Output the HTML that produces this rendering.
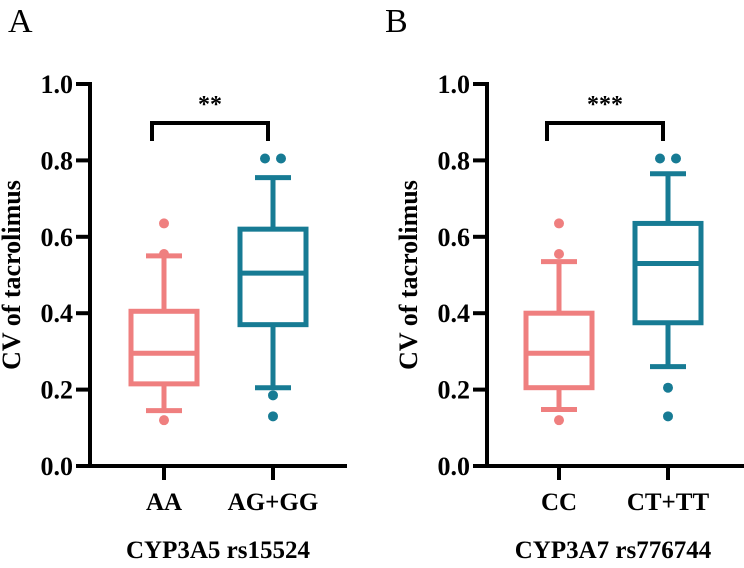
<!DOCTYPE html>
<html><head><meta charset="utf-8"><style>
body{margin:0;background:#fff}
svg text{font-family:"Liberation Serif",serif;font-weight:bold;fill:#000}
</style></head><body>
<svg id="c" width="744" height="563"></svg>
<script>
const panels=["A","B"];
const titles=["CYP3A5 rs15524","CYP3A7 rs776744"];
const groups=[["AA","AG+GG"],["CC","CT+TT"]];
const stars=["**","***"];
const q1=[[0.215,0.37],[0.205,0.375]];
const med=[[0.295,0.505],[0.295,0.53]];
const q3=[[0.405,0.62],[0.40,0.635]];
const wlo=[[0.145,0.205],[0.148,0.26]];
const whi=[[0.55,0.755],[0.535,0.765]];
const outl=[[[0.12,0.555,0.635],[0.185,0.13]],[[0.12,0.555,0.635],[0.205,0.13]]];
const outPairs=[[[],[0.805]],[[],[0.805]]];
const yTicks=[0,0.2,0.4,0.6,0.8,1.0];
const colors=["#ef7f7f","#177b94"];
const svg=document.getElementById('c');const NS="http://www.w3.org/2000/svg";
function mk(t,a,p){const e=document.createElementNS(NS,t);for(const k in a)e.setAttribute(k,a[k]);(p||svg).appendChild(e);return e;}
const axX=[90,487],axEnd=[347,744],cx=[[164,273],[559,668]],titleX=[218,613];
const y=v=>466-v*382;
panels.forEach((P,pi)=>{
 const g=mk('g',{});
 
 
 let t=mk('text',{x:pi?385:8,y:32,'font-size':34,style:'font-weight:normal'},g);t.textContent=P;
 
 const X=axX[pi];
 let a=mk('path',{d:`M${X} ${y(1)-2}V${y(0)}H${axEnd[pi]}`,stroke:'#000','stroke-width':4,fill:'none'},g);
 
 yTicks.forEach(v=>{
  mk('line',{x1:X-14,x2:X,y1:y(v),y2:y(v),stroke:'#000','stroke-width':4},g);
  let l=mk('text',{x:X-17,y:y(v)+9,'font-size':26,'text-anchor':'end'},g);l.textContent=v.toFixed(1);
  
 });
 let yt=mk('text',{x:0,y:0,'font-size':26,'text-anchor':'middle',transform:`translate(${X-70},${y(0.5)}) rotate(-90)`},g);
 yt.textContent='CV of  tacrolimus';
 
 let ti=mk('text',{x:titleX[pi],y:558,'font-size':25,'text-anchor':'middle'},g);ti.textContent=titles[pi];
 
 groups[pi].forEach((G,gi)=>{
  const c=cx[pi][gi],col=colors[gi];
  mk('line',{x1:c,x2:c,y1:y(0),y2:y(0)+14,stroke:'#000','stroke-width':4},g);
  let xl=mk('text',{x:c,y:510,'font-size':25,'text-anchor':'middle'},g);xl.textContent=G;
  
  const b=mk('g',{},g);
  
  
  const sw=5;
  mk('line',{x1:c,x2:c,y1:y(whi[pi][gi]),y2:y(q3[pi][gi]),stroke:col,'stroke-width':sw},b);
  mk('line',{x1:c,x2:c,y1:y(q1[pi][gi]),y2:y(wlo[pi][gi]),stroke:col,'stroke-width':sw},b);
  mk('line',{x1:c-18,x2:c+18,y1:y(whi[pi][gi]),y2:y(whi[pi][gi]),stroke:col,'stroke-width':sw},b);
  mk('line',{x1:c-18,x2:c+18,y1:y(wlo[pi][gi]),y2:y(wlo[pi][gi]),stroke:col,'stroke-width':sw},b);
  mk('rect',{x:c-33,y:y(q3[pi][gi]),width:66,height:y(q1[pi][gi])-y(q3[pi][gi]),fill:'#fff',stroke:col,'stroke-width':sw},b);
  mk('line',{x1:c-33,x2:c+33,y1:y(med[pi][gi]),y2:y(med[pi][gi]),stroke:col,'stroke-width':sw},b);
  outl[pi][gi].forEach(v=>{const d=mk('circle',{cx:c,cy:y(v),r:5,fill:col},b);
   });
  outPairs[pi][gi].forEach(v=>{[-8,8].forEach(dx=>{const d=mk('circle',{cx:c+dx,cy:y(v),r:5,fill:col},b);
   });});
 });
 const x1=cx[pi][0]-12,x2=cx[pi][1]-5;
 let br=mk('path',{d:`M${x1} 141V123H${x2}V141`,stroke:'#000','stroke-width':4,fill:'none'},g);
 
 let st=mk('text',{x:(x1+x2)/2,y:112,'font-size':24,'text-anchor':'middle'},g);st.textContent=stars[pi];
 
});
</script>
</body></html>
